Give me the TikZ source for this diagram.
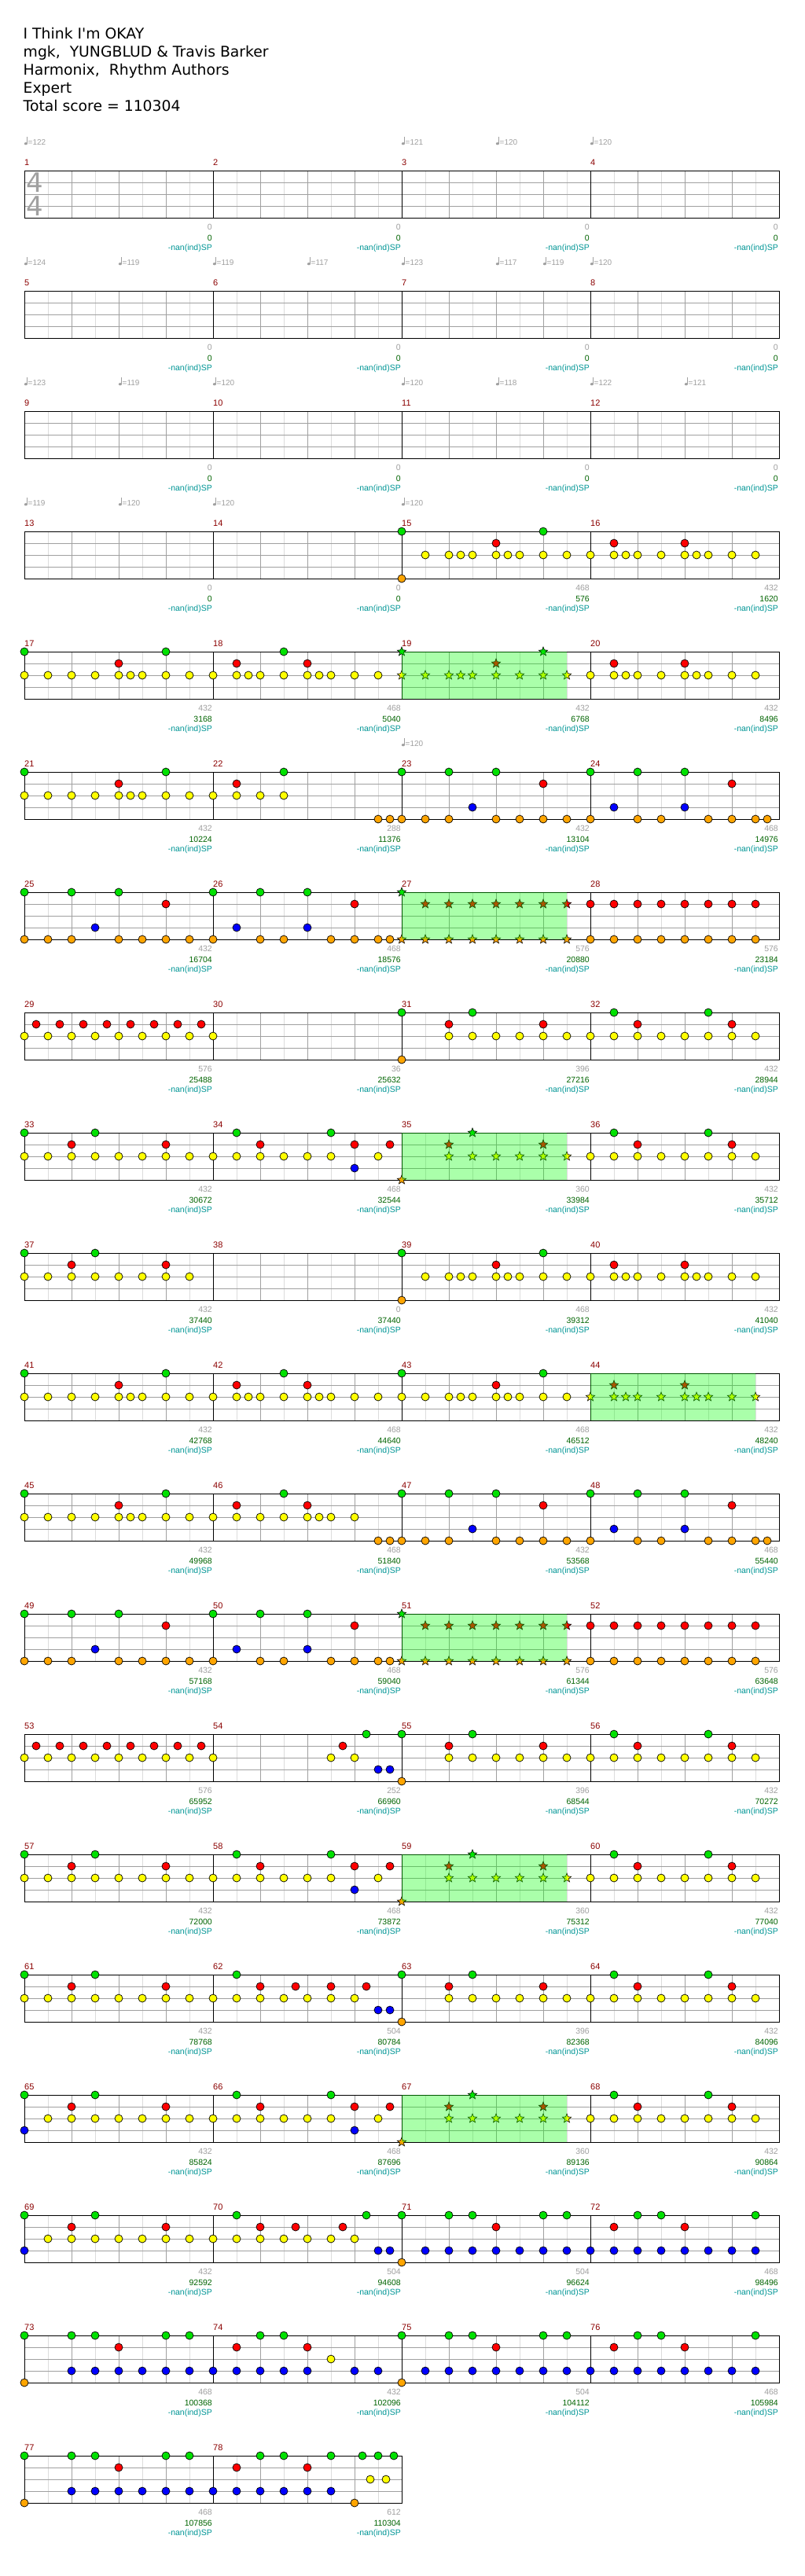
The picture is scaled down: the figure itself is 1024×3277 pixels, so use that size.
\documentclass[tikz,border=0pt]{standalone}
\usepackage{fontspec}
\setmainfont{DejaVu Sans}
\newfontfamily\hdr{DejaVu Sans}
\newfontfamily\smallf{Liberation Sans}
\usetikzlibrary{shapes.geometric}
\definecolor{laneG}{RGB}{0,225,0}
\definecolor{laneR}{RGB}{255,0,0}
\definecolor{laneY}{RGB}{255,255,0}
\definecolor{laneB}{RGB}{0,0,255}
\definecolor{laneO}{RGB}{255,165,0}
\definecolor{glight}{RGB}{220,220,220}
\definecolor{gbeat}{RGB}{160,160,160}
\definecolor{tgray}{RGB}{160,160,160}
\definecolor{dgreen}{RGB}{0,100,0}
\definecolor{teal2}{RGB}{0,150,150}
\definecolor{mred}{RGB}{139,0,0}
\definecolor{spgreen}{RGB}{0,255,0}
\newif\ifsp
\spfalse
\newcommand\Lane[3]{\if\relax\detokenize{#1}\relax\else
  \foreach \p in {#1}{\ifsp\node[starnote,fill=#3] at (\xa+15*\p,\ya+#2) {};\else\node[note,fill=#3] at (\xa+15*\p,\ya+#2) {};\fi}\fi}
\newcommand\Meas[8]{%
  \pgfmathtruncatemacro\mcol{mod(#1-1,4)}%
  \pgfmathtruncatemacro\mrow{(#1-1)/4}%
  \pgfmathsetmacro\xa{31+240*\mcol}%
  \pgfmathsetmacro\ya{217+153*\mrow}%
  \foreach \k in {1,3,5,7}{\draw[gridlight] (\xa+30*\k,\ya) -- (\xa+30*\k,\ya+60);}%
  \foreach \k in {2,4,6}{\draw[gridbeat] (\xa+30*\k,\ya) -- (\xa+30*\k,\ya+60);}%
  \foreach \k in {1,2,3}{\draw[gridbeat] (\xa,\ya+15*\k) -- (\xa+240,\ya+15*\k);}%
  \draw[staffline] (\xa,\ya) rectangle (\xa+240,\ya+60);%
  \node[mnum] at (\xa,\ya-6.5) {#1};%
  \node[ngray] at (\xa+239,\ya+75.3) {#2};%
  \node[ngreen] at (\xa+239,\ya+89) {#3};%
  \node[nteal] at (\xa+239,\ya+101.5) {-nan(ind)SP};%
  \Lane{#4}{0}{laneG}\Lane{#5}{15}{laneR}\Lane{#6}{30}{laneY}\Lane{#7}{45}{laneB}\Lane{#8}{60}{laneO}%
  \ifsp\fill[spfill] (\xa,\ya) rectangle (\xa+210,\ya+60);\fi
}
\newcommand\Tempo[3]{%
  \pgfmathtruncatemacro\mcol{mod(#1-1,4)}%
  \pgfmathtruncatemacro\mrow{(#1-1)/4}%
  \pgfmathsetmacro\tx{31+240*\mcol+15*#2}%
  \pgfmathsetmacro\tb{217+153*\mrow-32.7}%
  \fill[tgray] (\tx+1.9,\tb-1.6) ellipse [x radius=2.1pt,y radius=1.6pt];%
  \draw[tgray,line width=0.7pt] (\tx+3.7,\tb-1.6) -- (\tx+3.7,\tb-10.6);%
  \node[ttext] at (\tx+4.5,\tb) {=#3};}
\begin{document}
\begin{tikzpicture}[x=1pt,y=-1pt,
  gridlight/.style={draw=glight,line width=0.9pt},
  gridbeat/.style={draw=gbeat,line width=0.9pt},
  staffline/.style={draw=black,line width=0.9pt},
  note/.style={circle,draw=black,line width=0.7pt,inner sep=0pt,minimum size=10pt},
  starnote/.style={star,star points=5,star point ratio=2.3,draw=black,line width=0.6pt,inner sep=0pt,minimum size=12pt},
  spfill/.style={fill=spgreen,fill opacity=0.333},
  mnum/.style={anchor=base west,inner sep=0pt,text=mred,font=\smallf\fontsize{11}{13}\selectfont},
  ngray/.style={anchor=base east,inner sep=0pt,text=tgray,font=\smallf\fontsize{10.5}{12}\selectfont},
  ngreen/.style={anchor=base east,inner sep=0pt,text=dgreen,font=\smallf\fontsize{10.5}{12}\selectfont},
  nteal/.style={anchor=base east,inner sep=0pt,text=teal2,font=\smallf\fontsize{10.5}{12}\selectfont},
  ttext/.style={anchor=base west,inner sep=0pt,text=tgray,font=\smallf\fontsize{10}{12}\selectfont},
  title/.style={anchor=base west,inner sep=0pt,font=\hdr\fontsize{18.8}{23}\selectfont},
  timesig/.style={inner sep=0pt,text=gbeat,font=\hdr\fontsize{34}{36}\selectfont}]
\useasboundingbox (0,0) rectangle (1024,3277);
\fill[white] (0,0) rectangle (1024,3277);
\node[title] (t1) at (29.5,49) {I Think I'm OKAY};
\node[title] (t2) at (29.5,72) {mgk,\ \ YUNGBLUD \& Travis Barker};
\node[title] (t3) at (29.5,95) {Harmonix,\ \ Rhythm Authors};
\node[title] (t4) at (29.5,118) {Expert};
\node[title] (t5) at (29.5,141) {Total score = 110304};
% tempos
\Tempo{1}{0}{122}\Tempo{3}{0}{121}\Tempo{3}{8}{120}\Tempo{4}{0}{120}
\Tempo{5}{0}{124}\Tempo{5}{8}{119}\Tempo{6}{0}{119}\Tempo{6}{8}{117}\Tempo{7}{0}{123}\Tempo{7}{8}{117}\Tempo{7}{12}{119}\Tempo{8}{0}{120}
\Tempo{9}{0}{123}\Tempo{9}{8}{119}\Tempo{10}{0}{120}\Tempo{11}{0}{120}\Tempo{11}{8}{118}\Tempo{12}{0}{122}\Tempo{12}{8}{121}
\Tempo{13}{0}{119}\Tempo{13}{8}{120}\Tempo{14}{0}{120}\Tempo{15}{0}{120}
\Tempo{23}{0}{120}
% measures
\Meas{1}{0}{0}{}{}{}{}{}
\node[timesig] (ts1) at (44.5,232.5) {4};
\node[timesig] (ts2) at (44.5,262.5) {4};
\Meas{2}{0}{0}{}{}{}{}{}
\Meas{3}{0}{0}{}{}{}{}{}
\Meas{4}{0}{0}{}{}{}{}{}
\Meas{5}{0}{0}{}{}{}{}{}
\Meas{6}{0}{0}{}{}{}{}{}
\Meas{7}{0}{0}{}{}{}{}{}
\Meas{8}{0}{0}{}{}{}{}{}
\Meas{9}{0}{0}{}{}{}{}{}
\Meas{10}{0}{0}{}{}{}{}{}
\Meas{11}{0}{0}{}{}{}{}{}
\Meas{12}{0}{0}{}{}{}{}{}
\Meas{13}{0}{0}{}{}{}{}{}
\Meas{14}{0}{0}{}{}{}{}{}
\Meas{15}{468}{576}{0,12}{8}{2,4,5,6,8,9,10,12,14}{}{0}
\Meas{16}{432}{1620}{}{2,8}{0,2,3,4,6,8,9,10,12,14}{}{}
\Meas{17}{432}{3168}{0,12}{8}{0,2,4,6,8,9,10,12,14}{}{}
\Meas{18}{468}{5040}{6}{2,8}{0,2,3,4,6,8,9,10,12,14}{}{}
\sptrue\Meas{19}{432}{6768}{0,12}{8}{0,2,4,5,6,8,10,12,14}{}{}\spfalse
\Meas{20}{432}{8496}{}{2,8}{0,2,3,4,6,8,9,10,12,14}{}{}
\Meas{21}{432}{10224}{0,12}{8}{0,2,4,6,8,9,10,12,14}{}{}
\Meas{22}{288}{11376}{6}{2}{0,2,4,6}{}{14,15}
\Meas{23}{432}{13104}{0,4,8}{12}{}{6}{0,2,4,8,10,12,14}
\Meas{24}{468}{14976}{0,4,8}{12}{}{2,8}{0,4,6,10,12,14,15}
\Meas{25}{432}{16704}{0,4,8}{12}{}{6}{0,2,4,8,10,12,14}
\Meas{26}{468}{18576}{0,4,8}{12}{}{2,8}{0,4,6,10,12,14,15}
\sptrue\Meas{27}{576}{20880}{0}{2,4,6,8,10,12,14}{}{}{0,2,4,6,8,10,12,14}\spfalse
\Meas{28}{576}{23184}{}{0,2,4,6,8,10,12,14}{}{}{0,2,4,6,8,10,12,14}
\Meas{29}{576}{25488}{}{1,3,5,7,9,11,13,15}{0,2,4,6,8,10,12,14}{}{}
\Meas{30}{36}{25632}{}{}{0}{}{}
\Meas{31}{396}{27216}{0,6}{4,12}{4,6,8,10,12,14}{}{0}
\Meas{32}{432}{28944}{2,10}{4,12}{0,2,4,6,8,10,12,14}{}{}
\Meas{33}{432}{30672}{0,6}{4,12}{0,2,4,6,8,10,12,14}{}{}
\Meas{34}{468}{32544}{2,10}{4,12,15}{0,2,4,6,8,10,14}{12}{}
\sptrue\Meas{35}{360}{33984}{6}{4,12}{4,6,8,10,12,14}{}{0}\spfalse
\Meas{36}{432}{35712}{2,10}{4,12}{0,2,4,6,8,10,12,14}{}{}
\Meas{37}{432}{37440}{0,6}{4,12}{0,2,4,6,8,10,12,14}{}{}
\Meas{38}{0}{37440}{}{}{}{}{}
\Meas{39}{468}{39312}{0,12}{8}{2,4,5,6,8,9,10,12,14}{}{0}
\Meas{40}{432}{41040}{}{2,8}{0,2,3,4,6,8,9,10,12,14}{}{}
\Meas{41}{432}{42768}{0,12}{8}{0,2,4,6,8,9,10,12,14}{}{}
\Meas{42}{468}{44640}{6}{2,8}{0,2,3,4,6,8,9,10,12,14}{}{}
\Meas{43}{468}{46512}{0,12}{8}{0,2,4,5,6,8,9,10,12,14}{}{}
\sptrue\Meas{44}{432}{48240}{}{2,8}{0,2,3,4,6,8,9,10,12,14}{}{}\spfalse
\Meas{45}{432}{49968}{0,12}{8}{0,2,4,6,8,9,10,12,14}{}{}
\Meas{46}{468}{51840}{6}{2,8}{0,2,4,6,8,9,10,12}{}{14,15}
\Meas{47}{432}{53568}{0,4,8}{12}{}{6}{0,2,4,8,10,12,14}
\Meas{48}{468}{55440}{0,4,8}{12}{}{2,8}{0,4,6,10,12,14,15}
\Meas{49}{432}{57168}{0,4,8}{12}{}{6}{0,2,4,8,10,12,14}
\Meas{50}{468}{59040}{0,4,8}{12}{}{2,8}{0,4,6,10,12,14,15}
\sptrue\Meas{51}{576}{61344}{0}{2,4,6,8,10,12,14}{}{}{0,2,4,6,8,10,12,14}\spfalse
\Meas{52}{576}{63648}{}{0,2,4,6,8,10,12,14}{}{}{0,2,4,6,8,10,12,14}
\Meas{53}{576}{65952}{}{1,3,5,7,9,11,13,15}{0,2,4,6,8,10,12,14}{}{}
\Meas{54}{252}{66960}{13}{11}{0,10,12}{14,15}{}
\Meas{55}{396}{68544}{0,6}{4,12}{4,6,8,10,12,14}{}{0}
\Meas{56}{432}{70272}{2,10}{4,12}{0,2,4,6,8,10,12,14}{}{}
\Meas{57}{432}{72000}{0,6}{4,12}{0,2,4,6,8,10,12,14}{}{}
\Meas{58}{468}{73872}{2,10}{4,12,15}{0,2,4,6,8,10,14}{12}{}
\sptrue\Meas{59}{360}{75312}{6}{4,12}{4,6,8,10,12,14}{}{0}\spfalse
\Meas{60}{432}{77040}{2,10}{4,12}{0,2,4,6,8,10,12,14}{}{}
\Meas{61}{432}{78768}{0,6}{4,12}{0,2,4,6,8,10,12,14}{}{}
\Meas{62}{504}{80784}{2}{4,7,10,13}{0,2,4,6,8,10,12}{14,15}{}
\Meas{63}{396}{82368}{0,6}{4,12}{4,6,8,10,12,14}{}{0}
\Meas{64}{432}{84096}{2,10}{4,12}{0,2,4,6,8,10,12,14}{}{}
\Meas{65}{432}{85824}{0,6}{4,12}{2,4,6,8,10,12,14}{0}{}
\Meas{66}{468}{87696}{2,10}{4,12,15}{0,2,4,6,8,10,14}{12}{}
\sptrue\Meas{67}{360}{89136}{6}{4,12}{4,6,8,10,12,14}{}{0}\spfalse
\Meas{68}{432}{90864}{2,10}{4,12}{0,2,4,6,8,10,12,14}{}{}
\Meas{69}{432}{92592}{0,6}{4,12}{2,4,6,8,10,12,14}{0}{}
\Meas{70}{504}{94608}{2,13}{4,7,11}{0,2,4,6,8,10,12}{14,15}{}
\Meas{71}{504}{96624}{0,4,6,12,14}{8}{}{2,4,6,8,10,12,14}{0}
\Meas{72}{468}{98496}{4,6,14}{2,8}{}{0,2,4,6,8,10,12,14}{}
\Meas{73}{468}{100368}{0,4,6,12,14}{8}{}{4,6,8,10,12,14}{0}
\Meas{74}{432}{102096}{4,6}{2,8}{10}{0,2,4,6,8,12,14}{}
\Meas{75}{504}{104112}{0,4,6,12,14}{8}{}{2,4,6,8,10,12,14}{0}
\Meas{76}{468}{105984}{4,6,14}{2,8}{}{0,2,4,6,8,10,12,14}{}
\Meas{77}{468}{107856}{0,4,6,12,14}{8}{}{4,6,8,10,12,14}{0}
\Meas{78}{612}{110304}{4,6,10,12.667,14,15.333}{2,8}{13.333,14.667}{0,2,4,6,8,10}{12}
\end{tikzpicture}
\end{document}
